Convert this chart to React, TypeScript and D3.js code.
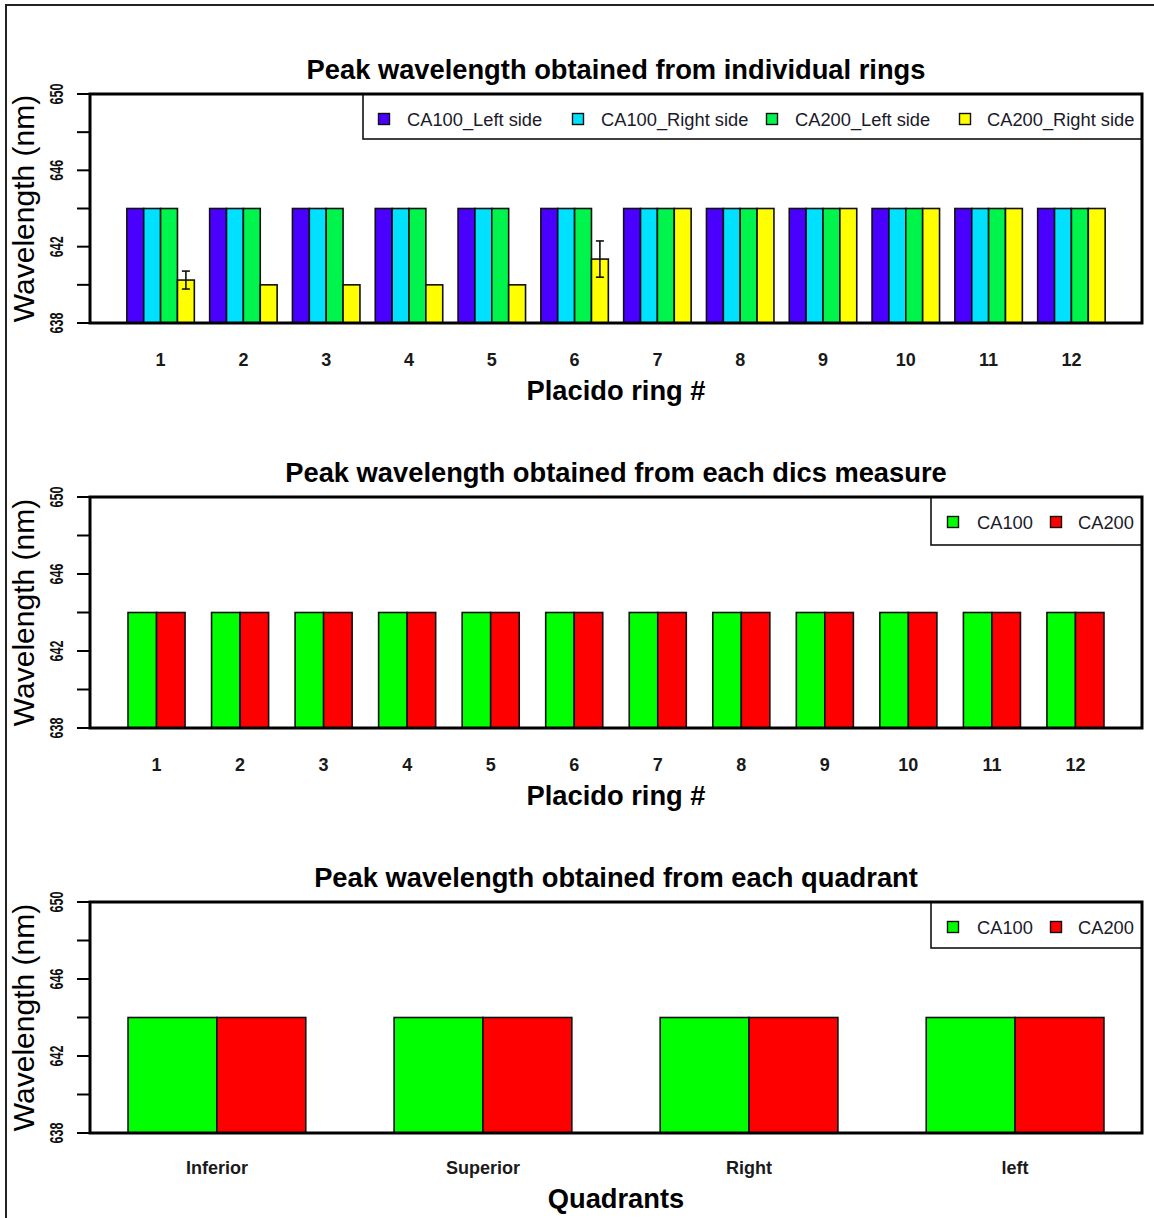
import React from "react";
import * as d3 from "d3";

// ---- data ----
const rings = ["1", "2", "3", "4", "5", "6", "7", "8", "9", "10", "11", "12"];
const ca100Left = [644, 644, 644, 644, 644, 644, 644, 644, 644, 644, 644, 644];
const ca100Right = [644, 644, 644, 644, 644, 644, 644, 644, 644, 644, 644, 644];
const ca200Left = [644, 644, 644, 644, 644, 644, 644, 644, 644, 644, 644, 644];
const ca200Right = [640.25, 640, 640, 640, 640, 641.35, 644, 644, 644, 644, 644, 644];
const ca200RightErr = [0.47, 0, 0, 0, 0, 0.95, 0, 0, 0, 0, 0, 0];

const discCA100 = [644, 644, 644, 644, 644, 644, 644, 644, 644, 644, 644, 644];
const discCA200 = [644, 644, 644, 644, 644, 644, 644, 644, 644, 644, 644, 644];

const quadrants = ["Inferior", "Superior", "Right", "left"];
const quadCA100 = [644, 644, 644, 644];
const quadCA200 = [644, 644, 644, 644];

const yTickValues = [638, 640, 642, 644, 646, 648, 650];
const yTickLabels = [638, 642, 646, 650];

const FONT = "'Liberation Sans', Arial, Helvetica, sans-serif";

type Series = { name: string; color: string; values: number[]; err?: number[] };

type PanelProps = {
  title: string;
  xTitle: string;
  categories: string[];
  series: Series[];
  top: number;
  bottom: number;
  paddingInner: number;
  paddingOuter: number;
  legend: { x: number; h: number; swatchX: number[]; textX: number[] };
  tickLabelDy: number;
  xTitleDy: number;
};

const LEFT = 90;
const RIGHT = 1142;

function Panel(p: PanelProps) {
  const y = d3.scaleLinear().domain([638, 650]).range([p.bottom, p.top]);
  const x0 = d3
    .scaleBand<string>()
    .domain(p.categories)
    .range([LEFT, RIGHT])
    .paddingInner(p.paddingInner)
    .paddingOuter(p.paddingOuter);
  const x1 = d3
    .scaleBand<string>()
    .domain(p.series.map((s) => s.name))
    .range([0, x0.bandwidth()])
    .padding(0);
  const cx = (LEFT + RIGHT) / 2;
  const midY = (p.top + p.bottom) / 2;
  const legY = p.top + 25;

  return (
    <g>
      {/* title */}
      <text
        x={cx}
        y={p.top - 15}
        textAnchor="middle"
        fontFamily={FONT}
        fontWeight="bold"
        fontSize={27.3}
        fill="#000"
      >
        {p.title}
      </text>

      {/* bars */}
      {p.categories.map((c, i) => (
        <g key={c} transform={`translate(${x0(c)},0)`}>
          {p.series.map((s) => {
            const v = s.values[i];
            const bx = x1(s.name)!;
            const bw = x1.bandwidth();
            const e = s.err ? s.err[i] : 0;
            return (
              <g key={s.name}>
                <rect
                  x={bx}
                  y={y(v)}
                  width={bw}
                  height={y(638) - y(v)}
                  fill={s.color}
                  stroke="#111"
                  strokeWidth={1.6}
                />
                {e > 0 && (
                  <g stroke="#111" strokeWidth={1.6}>
                    <line x1={bx + bw / 2} x2={bx + bw / 2} y1={y(v - e)} y2={y(v + e)} />
                    <line x1={bx + bw / 2 - 4} x2={bx + bw / 2 + 4} y1={y(v - e)} y2={y(v - e)} />
                    <line x1={bx + bw / 2 - 4} x2={bx + bw / 2 + 4} y1={y(v + e)} y2={y(v + e)} />
                  </g>
                )}
              </g>
            );
          })}
        </g>
      ))}

      {/* legend */}
      <rect
        x={p.legend.x}
        y={p.top}
        width={RIGHT - p.legend.x}
        height={p.legend.h}
        fill="#fff"
        stroke="#111"
        strokeWidth={1.6}
      />
      {p.series.map((s, i) => (
        <g key={s.name}>
          <rect
            x={p.legend.swatchX[i] - 5.5}
            y={legY - 5.5}
            width={11}
            height={11}
            fill={s.color}
            stroke="#111"
            strokeWidth={1.4}
          />
          <text
            x={p.legend.textX[i]}
            y={legY}
            dominantBaseline="central"
            fontFamily={FONT}
            fontSize={18.3}
            fill="#1a1a2a"
          >
            {s.name}
          </text>
        </g>
      ))}

      {/* plot frame */}
      <rect
        x={LEFT}
        y={p.top}
        width={RIGHT - LEFT}
        height={p.bottom - p.top}
        fill="none"
        stroke="#000"
        strokeWidth={3}
      />

      {/* y ticks */}
      {yTickValues.map((t) => (
        <line key={t} x1={LEFT - 13} x2={LEFT} y1={y(t)} y2={y(t)} stroke="#000" strokeWidth={2} />
      ))}
      {yTickLabels.map((t) => (
        <text
          key={t}
          transform={`translate(57,${y(t)}) rotate(-90)`}
          textAnchor="middle"
          dominantBaseline="central"
          fontFamily={FONT}
          fontWeight="bold"
          fontSize={18}
          textLength={21}
          lengthAdjust="spacingAndGlyphs"
          fill="#111"
        >
          {t}
        </text>
      ))}
      <text
        transform={`translate(23,${midY}) rotate(-90)`}
        textAnchor="middle"
        dominantBaseline="central"
        fontFamily={FONT}
        fontSize={30}
        fill="#000"
      >
        Wavelength (nm)
      </text>

      {/* x tick labels */}
      {p.categories.map((c) => (
        <text
          key={c}
          x={x0(c)! + x0.bandwidth() / 2}
          y={p.bottom + p.tickLabelDy}
          textAnchor="middle"
          dominantBaseline="central"
          fontFamily={FONT}
          fontWeight="bold"
          fontSize={18}
          fill="#1a1a1a"
        >
          {c}
        </text>
      ))}
      <text
        x={cx}
        y={p.bottom + p.xTitleDy}
        textAnchor="middle"
        dominantBaseline="central"
        fontFamily={FONT}
        fontWeight="bold"
        fontSize={27.3}
        fill="#000"
      >
        {p.xTitle}
      </text>
    </g>
  );
}

export default function App() {
  return (
    <svg
      width={1154}
      height={1218}
      style={{ position: "absolute", left: 0, top: 0, background: "#fff" }}
    >
      <rect x={0} y={0} width={1154} height={1218} fill="#fff" />
      {/* outer frame */}
      <path d="M6,1218 V5 H1154" fill="none" stroke="#222" strokeWidth={2} />

      <Panel
        title="Peak wavelength obtained from individual rings"
        xTitle="Placido ring #"
        categories={rings}
        series={[
          { name: "CA100_Left side", color: "#4a00ff", values: ca100Left },
          { name: "CA100_Right side", color: "#00e1ff", values: ca100Right },
          { name: "CA200_Left side", color: "#00f54c", values: ca200Left },
          { name: "CA200_Right side", color: "#ffff00", values: ca200Right, err: ca200RightErr },
        ]}
        top={94}
        bottom={323}
        paddingInner={0.185}
        paddingOuter={0.445}
        legend={{ x: 363, h: 45, swatchX: [384, 578, 772, 965], textX: [407, 601, 795, 987] }}
        tickLabelDy={37}
        xTitleDy={67}
      />

      <Panel
        title="Peak wavelength obtained from each dics measure"
        xTitle="Placido ring #"
        categories={rings}
        series={[
          { name: "CA100", color: "#00ff00", values: discCA100 },
          { name: "CA200", color: "#ff0000", values: discCA200 },
        ]}
        top={497}
        bottom={728}
        paddingInner={0.317}
        paddingOuter={0.455}
        legend={{ x: 931, h: 48, swatchX: [953, 1056], textX: [977, 1078] }}
        tickLabelDy={37}
        xTitleDy={67}
      />

      <Panel
        title="Peak wavelength obtained from each quadrant"
        xTitle="Quadrants"
        categories={quadrants}
        series={[
          { name: "CA100", color: "#00ff00", values: quadCA100 },
          { name: "CA200", color: "#ff0000", values: quadCA200 },
        ]}
        top={902}
        bottom={1133}
        paddingInner={0.332}
        paddingOuter={0.143}
        legend={{ x: 931, h: 46, swatchX: [953, 1056], textX: [977, 1078] }}
        tickLabelDy={35}
        xTitleDy={65}
      />
    </svg>
  );
}
